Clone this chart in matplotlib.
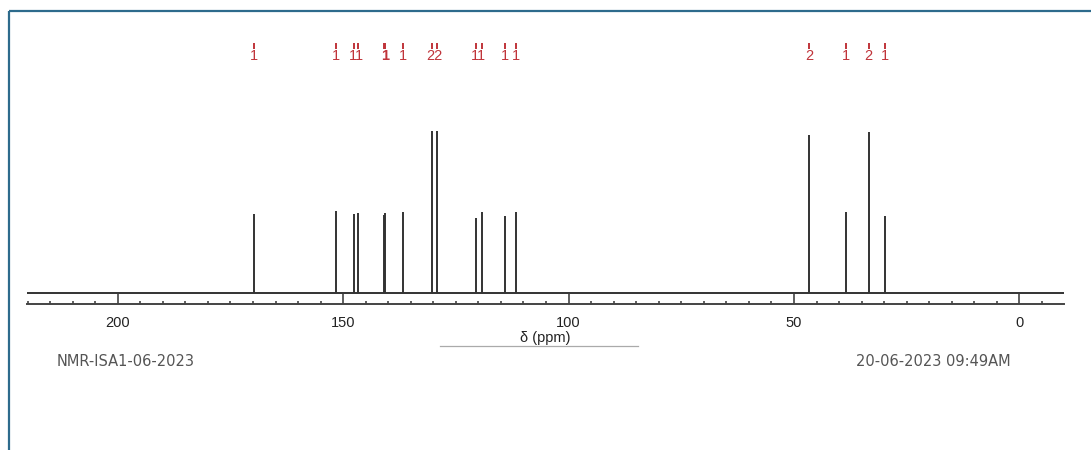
import matplotlib.pyplot as plt
from matplotlib.lines import Line2D
from matplotlib.ticker import MultipleLocator

# 13C NMR peak list: shift (ppm), relative height, integral
shifts = [169.8, 151.5, 147.7, 146.6, 140.9, 140.7, 136.7, 130.4, 129.2,
          120.6, 119.3, 114.1, 111.6, 46.6, 38.4, 33.4, 29.9]
heights = [79, 82, 79.6, 80.3, 78.3, 80.6, 81.6, 162.3, 162.3,
           75.6, 81.3, 77.3, 81.6, 158.3, 81, 161.6, 77.6]
integrals = [1, 1, 1, 1, 1, 1, 1, 2, 2, 1, 1, 1, 1, 2, 1, 2, 1]
major_ticks = [200, 150, 100, 50, 0]

W, H = 1091, 450
fig = plt.figure(figsize=(W / 100, H / 100), dpi=100)

# axes placed in pixel terms: x from 26.7 to 1064, y from 304 (axis line) to 20
x0, x1 = 26.7, 1064
y_axis, y_top = 304, 20
ax = fig.add_axes([x0 / W, 1 - y_axis / H, (x1 - x0) / W, (y_axis - y_top) / H])
base_px = 293.3
ax.set_xlim(220.2, -9.9)
ax.set_ylim(-(y_axis - base_px), base_px - y_top)

peak_col = '#333333'
red = '#c0343a'

# baseline + peaks
ax.plot([220.2, -9.9], [0, 0], color=peak_col, lw=1.4, solid_capstyle='butt')
ax.vlines(shifts, 0, heights, color=peak_col, lw=1.4)

# integral labels: neighbouring peaks that sit closer than 1.5 ppm share one text
tick_lo, tick_hi = base_px - 49, base_px - 43
ax.vlines(shifts, tick_lo, tick_hi, color=red, lw=1.4)
groups = []
for s, n in zip(shifts, integrals):
    if groups and groups[-1][-1][0] - s < 1.5:
        groups[-1].append((s, n))
    else:
        groups.append([(s, n)])
for g in groups:
    xs = [p[0] for p in g]
    if len(g) > 1 and max(xs) - min(xs) < 0.5:
        # two labels printed on top of each other -> one heavier digit
        label, weight = str(g[0][1]), 'bold'
    else:
        label, weight = ''.join(str(p[1]) for p in g), 'normal'
    ax.text(sum(xs) / len(xs), base_px - 56, label, color=red, ha='center',
            va='center', fontsize=10.5, family='Liberation Sans', fontweight=weight)

for side in ['top', 'left', 'right']:
    ax.spines[side].set_visible(False)
ax.spines['bottom'].set_color('#444444')
ax.spines['bottom'].set_linewidth(1.4)
ax.set_yticks([])
ax.set_xticks(major_ticks)
ax.xaxis.set_minor_locator(MultipleLocator(5))
ax.tick_params(axis='x', which='major', direction='in', length=7, width=1.2,
               color='#444444', pad=8.5, labelsize=10.5, labelcolor='#222222')
ax.tick_params(axis='x', which='minor', direction='in', length=2.5, width=1.2,
               color='#444444')
for lab in ax.get_xticklabels():
    lab.set_family('Liberation Sans')
ax.patch.set_alpha(0)

# axis title with underline
fig.text(545 / W, 1 - 338 / H, 'δ (ppm)', ha='center', va='center',
         fontsize=10.5, family='Liberation Sans', color='#222222')
fig.add_artist(Line2D([440 / W, 638 / W], [1 - 346 / H, 1 - 346 / H],
                      color='#aaaaaa', lw=0.9, transform=fig.transFigure))

# footer texts
fig.text(57 / W, 1 - 362 / H, 'NMR-ISA1-06-2023', ha='left', va='center',
         fontsize=10.5, family='DejaVu Sans', color='#555555')
fig.text(1011 / W, 1 - 362 / H, '20-06-2023 09:49AM', ha='right', va='center',
         fontsize=10.5, family='DejaVu Sans', color='#555555')

# frame lines (top and left)
frame = '#2d6b8c'
fig.add_artist(Line2D([9 / W, 1], [1 - 11 / H, 1 - 11 / H], color=frame, lw=1.6,
                      transform=fig.transFigure, solid_capstyle='butt'))
fig.add_artist(Line2D([9 / W, 9 / W], [1 - 11 / H, 0], color=frame, lw=1.6,
                      transform=fig.transFigure, solid_capstyle='butt'))

fig.savefig('out.png', dpi=100)
